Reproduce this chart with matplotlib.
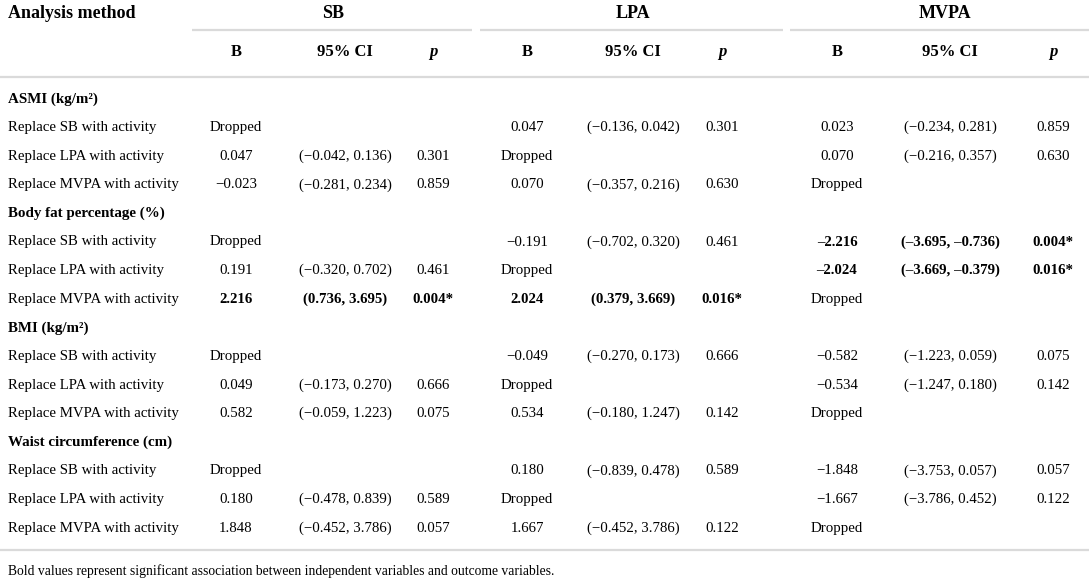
import matplotlib.pyplot as plt

plt.rcParams['font.family'] = ['Liberation Serif', 'DejaVu Serif']

# table content
exposures = ['SB', 'LPA', 'MVPA']
sub_headers = ['B', '95% CI', 'p']
outcomes = ['ASMI (kg/m²)', 'Body fat percentage (%)', 'BMI (kg/m²)', 'Waist circumference (cm)']
methods = ['Replace SB with activity', 'Replace LPA with activity', 'Replace MVPA with activity']

# one row per (outcome, method); columns SB, LPA, MVPA
b_values = [
    ['Dropped', '0.047', '0.023'],
    ['0.047', 'Dropped', '0.070'],
    ['−0.023', '0.070', 'Dropped'],
    ['Dropped', '−0.191', '–2.216'],
    ['0.191', 'Dropped', '–2.024'],
    ['2.216', '2.024', 'Dropped'],
    ['Dropped', '−0.049', '−0.582'],
    ['0.049', 'Dropped', '−0.534'],
    ['0.582', '0.534', 'Dropped'],
    ['Dropped', '0.180', '−1.848'],
    ['0.180', 'Dropped', '−1.667'],
    ['1.848', '1.667', 'Dropped'],
]
ci_values = [
    ['', '(−0.136, 0.042)', '(−0.234, 0.281)'],
    ['(−0.042, 0.136)', '', '(−0.216, 0.357)'],
    ['(−0.281, 0.234)', '(−0.357, 0.216)', ''],
    ['', '(−0.702, 0.320)', '(–3.695, –0.736)'],
    ['(−0.320, 0.702)', '', '(–3.669, –0.379)'],
    ['(0.736, 3.695)', '(0.379, 3.669)', ''],
    ['', '(−0.270, 0.173)', '(−1.223, 0.059)'],
    ['(−0.173, 0.270)', '', '(−1.247, 0.180)'],
    ['(−0.059, 1.223)', '(−0.180, 1.247)', ''],
    ['', '(−0.839, 0.478)', '(−3.753, 0.057)'],
    ['(−0.478, 0.839)', '', '(−3.786, 0.452)'],
    ['(−0.452, 3.786)', '(−0.452, 3.786)', ''],
]
p_values = [
    ['', '0.301', '0.859'],
    ['0.301', '', '0.630'],
    ['0.859', '0.630', ''],
    ['', '0.461', '0.004*'],
    ['0.461', '', '0.016*'],
    ['0.004*', '0.016*', ''],
    ['', '0.666', '0.075'],
    ['0.666', '', '0.142'],
    ['0.075', '0.142', ''],
    ['', '0.589', '0.057'],
    ['0.589', '', '0.122'],
    ['0.057', '0.122', ''],
]
bold_cells = [(3, 2), (4, 2), (5, 0), (5, 1)]
footnote = 'Bold values represent significant association between independent variables and outcome variables.'

# layout (pixels)
W, H = 1089, 583
col_x = [[236, 345, 433], [527, 633, 722], [837, 950, 1053]]
group_x = [333, 633, 945]
group_lines = [(192, 472), (480, 783), (790, 1089)]
line_col = '#dadada'
row_h = 28.6
y_first = 99

fig = plt.figure(figsize=(W / 100, H / 100), dpi=100)
ax = fig.add_axes([0, 0, 1, 1])
ax.set_xlim(0, W)
ax.set_ylim(H, 0)
ax.axis('off')

# headers
ax.text(8, 13, 'Analysis method', fontsize=13, fontweight='bold', va='center', ha='left')
for g in range(3):
    ax.text(group_x[g], 13, exposures[g], fontsize=13, fontweight='bold', va='center', ha='center')
    ax.plot(group_lines[g], [30, 30], color=line_col, lw=1.6, solid_capstyle='butt')
    for k in range(3):
        ax.text(col_x[g][k], 52, sub_headers[k], fontsize=12, fontweight='bold',
                style='italic' if k == 2 else 'normal', va='center', ha='center')
ax.plot([0, W], [77, 77], color=line_col, lw=1.6)

# body
y = y_first
r = 0
for o, outcome in enumerate(outcomes):
    ax.text(8, y, outcome, fontsize=10.8, fontweight='bold', va='center', ha='left')
    y += row_h
    for m, method in enumerate(methods):
        ax.text(8, y, method, fontsize=10.7, va='center', ha='left')
        for g in range(3):
            wt = 'bold' if (r, g) in bold_cells else 'normal'
            for k, vals in enumerate([b_values, ci_values, p_values]):
                s = vals[r][g]
                if not s:
                    continue
                ax.text(col_x[g][k], y, s, fontsize=10.7, fontweight=wt, va='center', ha='center')
        y += row_h
        r += 1

ax.plot([0, W], [550, 550], color=line_col, lw=1.6)
ax.text(8, 571, footnote, fontsize=9.8, va='center', ha='left')

fig.savefig('out.png', dpi=100)
